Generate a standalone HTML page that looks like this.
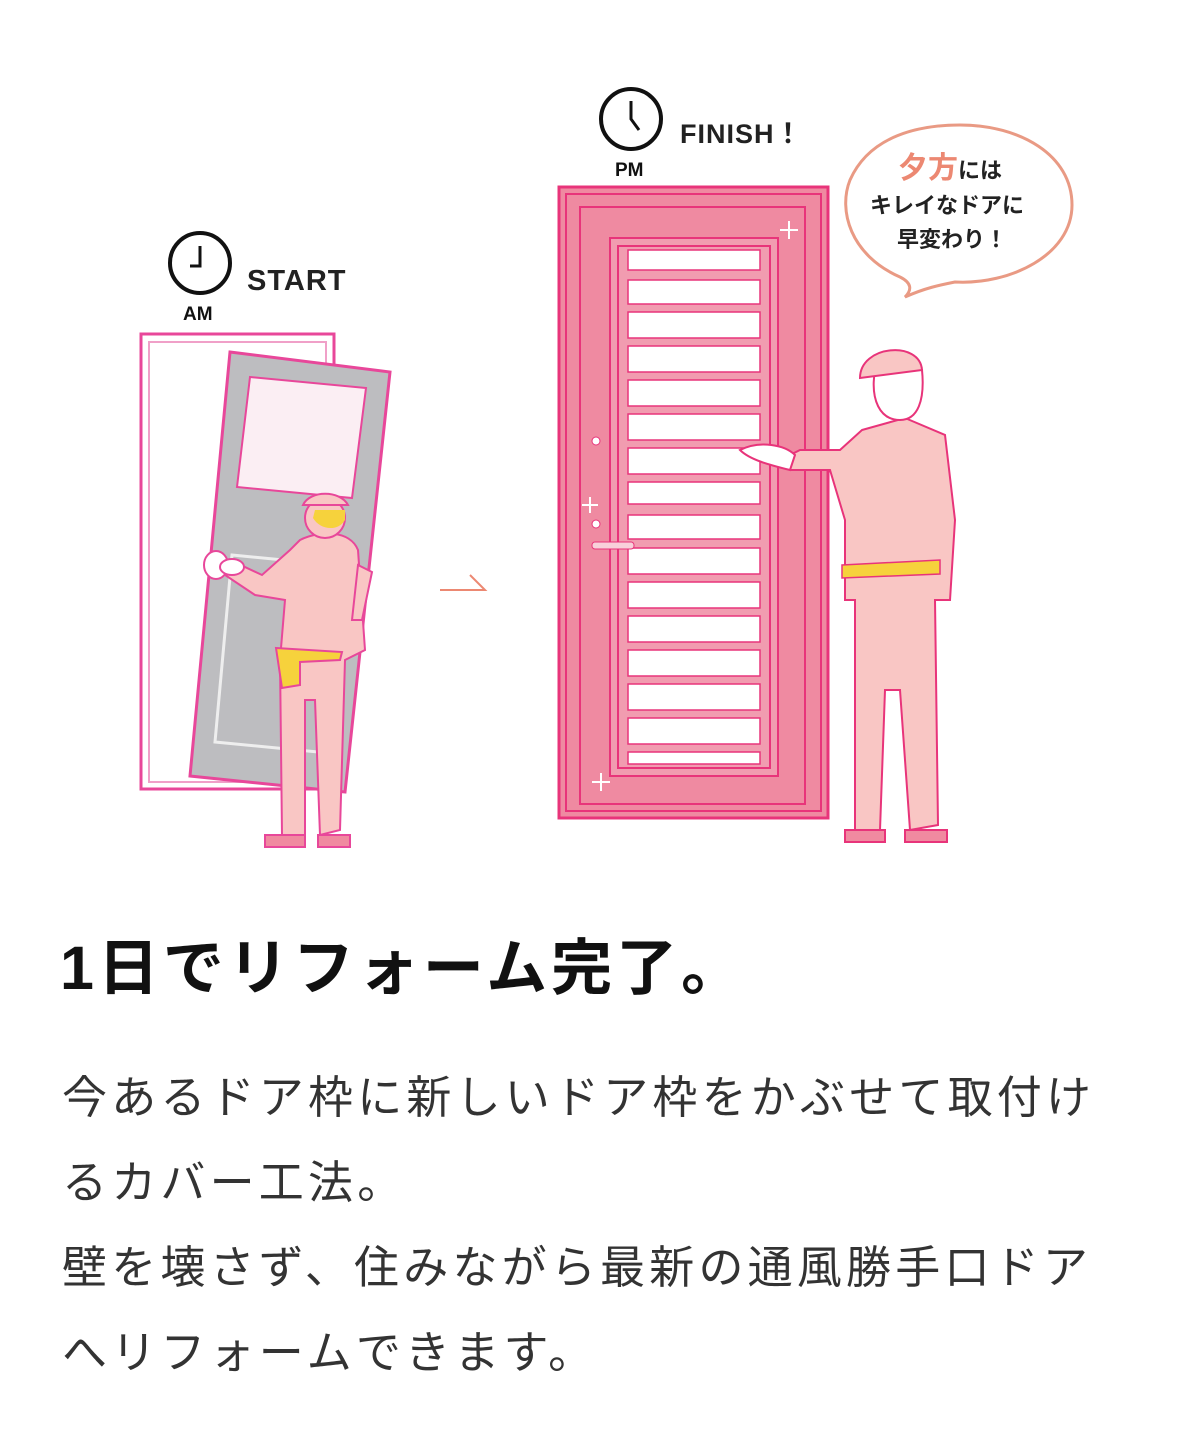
<!DOCTYPE html>
<html><head><meta charset="utf-8"><style>
body{margin:0;width:1178px;height:1453px;background:#fff;overflow:hidden;position:relative;font-family:"Liberation Sans","Noto Sans CJK JP",sans-serif}
svg{position:absolute;left:0;top:0}
h1{position:absolute;left:60px;top:928px;margin:0;font-size:61px;font-weight:700;letter-spacing:4px;color:#111;line-height:80px;font-family:"Liberation Sans","Noto Sans CJK JP",sans-serif}
.p{position:absolute;left:62px;top:1055px;font-size:45px;letter-spacing:4.2px;line-height:85px;color:#333;white-space:nowrap}
</style></head><body>
<svg width="1178" height="900" viewBox="0 0 1178 900">
<!-- AM clock -->
<circle cx="200" cy="263" r="30" fill="none" stroke="#111" stroke-width="4"/>
<path d="M200 246V266H190" fill="none" stroke="#111" stroke-width="3"/>
<text x="183" y="320" font-size="19" font-weight="700" fill="#111">AM</text>
<text x="247" y="290" font-size="29" font-weight="700" fill="#222" letter-spacing="1">START</text>
<!-- PM clock -->
<circle cx="631" cy="119" r="30" fill="none" stroke="#111" stroke-width="4"/>
<path d="M631 101V119L639 130" fill="none" stroke="#111" stroke-width="3"/>
<text x="615" y="176" font-size="19" font-weight="700" fill="#111">PM</text>
<text x="680" y="143" font-size="27" font-weight="700" fill="#222" letter-spacing="1">FINISH！</text>
<!-- bubble -->
<path d="M900 277 C850 255 838 210 850 180 C870 135 920 125 960 125 C1020 125 1072 155 1072 205 C1072 255 1010 285 955 282 C940 285 925 288 905 297 C912 290 912 283 900 277Z" fill="#fff" stroke="#e99a84" stroke-width="3"/>
<text x="898" y="178" font-size="30" font-weight="700" fill="#ec8872">夕方<tspan font-size="22" fill="#222">には</tspan></text>
<text x="870" y="213" font-size="22" font-weight="700" fill="#222">キレイなドアに</text>
<text x="897" y="247" font-size="22" font-weight="700" fill="#222">早変わり！</text>
<!-- left frame -->
<rect x="141" y="334" width="193" height="455" fill="none" stroke="#e8479a" stroke-width="3"/>
<rect x="149" y="342" width="177" height="440" fill="none" stroke="#f0a0c8" stroke-width="2"/>
<!-- tilted door -->
<polygon points="230,352 390,372 345,792 190,776" fill="#bdbdc0" stroke="#e8479a" stroke-width="3"/>
<polygon points="250,377 366,388 352,498 237,487" fill="#fbeef3" stroke="#e8479a" stroke-width="2"/>
<polygon points="232,555 335,565 318,752 215,742" fill="none" stroke="#eee" stroke-width="3"/>
<!-- left worker -->
<g fill="#f9c6c4" stroke="#e8479a" stroke-width="2">
<path d="M300 540 C320 530 350 530 358 550 L365 650 L345 660 L340 830 L320 835 L315 700 L305 700 L305 835 L282 835 L280 660 L285 600 L255 595 L225 575 L230 560 L262 575 L290 550Z"/>
<path d="M358 565 L372 572 L362 620 L352 620Z"/>
<circle cx="325" cy="518" r="20"/>
<path d="M303 505 C310 490 340 490 348 505Z"/>
<ellipse cx="216" cy="565" rx="12" ry="14" fill="#fff"/>
<ellipse cx="232" cy="567" rx="12" ry="8" fill="#fff"/>
<path d="M265 835 h40 v12 h-40Z M318 835 h32 v12 h-32Z" fill="#f08aa0"/>
</g>
<path d="M276 648 L342 652 L340 660 L300 662 L300 685 L282 688 Z" fill="#f6d23c" stroke="#e8479a" stroke-width="2"/>
<path d="M313 518 C320 530 338 532 345 520 L345 510 L315 510Z" fill="#f6d23c"/>
<!-- arrow -->
<path d="M440 590 H485 L470 575" fill="none" stroke="#ec8872" stroke-width="2"/>
<!-- right door -->
<rect x="559" y="187" width="269" height="631" fill="#ef8aa1" stroke="#e8347a" stroke-width="3"/>
<rect x="566" y="194" width="255" height="617" fill="none" stroke="#e8347a" stroke-width="2"/>
<rect x="580" y="207" width="225" height="597" fill="#ef8aa1" stroke="#e8347a" stroke-width="2"/>
<rect x="610" y="238" width="168" height="538" fill="#f19cb0" stroke="#e8347a" stroke-width="2"/>
<rect x="618" y="246" width="152" height="522" fill="#f19cb0" stroke="#e8347a" stroke-width="2"/>
<g fill="#fff" stroke="#e8347a" stroke-width="1.5">
<rect x="628" y="250" width="132" height="20"/>
<rect x="628" y="280" width="132" height="24"/>
<rect x="628" y="312" width="132" height="26"/>
<rect x="628" y="346" width="132" height="26"/>
<rect x="628" y="380" width="132" height="26"/>
<rect x="628" y="414" width="132" height="26"/>
<rect x="628" y="448" width="132" height="26"/>
<rect x="628" y="482" width="132" height="22"/>
<rect x="628" y="515" width="132" height="24"/>
<rect x="628" y="548" width="132" height="26"/>
<rect x="628" y="582" width="132" height="26"/>
<rect x="628" y="616" width="132" height="26"/>
<rect x="628" y="650" width="132" height="26"/>
<rect x="628" y="684" width="132" height="26"/>
<rect x="628" y="718" width="132" height="26"/>
<rect x="628" y="752" width="132" height="12"/>
</g>
<circle cx="596" cy="441" r="4" fill="#fff" stroke="#e8347a"/>
<circle cx="596" cy="524" r="4" fill="#fff" stroke="#e8347a"/>
<rect x="592" y="542" width="42" height="7" rx="3" fill="#f8d0da" stroke="#e8347a"/>
<g stroke="#fff" stroke-width="2"><path d="M780 230h18M789 221v18M582 505h16M590 497v16M592 782h18M601 773v18"/></g>
<!-- right worker -->
<g fill="#f9c6c4" stroke="#e8347a" stroke-width="2">
<path d="M862 430 L905 418 L945 435 L955 520 L950 600 L935 600 L938 825 L910 830 L900 690 L885 690 L880 830 L855 830 L855 600 L845 600 L845 520 L830 470 L790 470 L780 460 L800 450 L840 450Z"/>
<path d="M875 370 C870 400 880 420 900 420 C918 420 925 400 922 370Z" fill="#fff"/>
<path d="M860 378 C860 345 920 340 922 370 Z"/>
<path d="M740 450 C760 440 785 445 795 455 L790 470 C770 465 750 460 740 450Z" fill="#fff"/>
<path d="M845 830 h40 v12 h-40Z M905 830 h42 v12 h-42Z" fill="#f08aa0"/>
</g>
<path d="M842 565 L940 560 L940 574 L842 578Z" fill="#f6d23c" stroke="#e8347a" stroke-width="1.5"/>
</svg>
<h1>1日でリフォーム完了。</h1>
<div class="p">今あるドア枠に新しいドア枠をかぶせて取付け<br>るカバー工法。<br>壁を壊さず、住みながら最新の通風勝手口ドア<br>へリフォームできます。</div>
</body></html>
